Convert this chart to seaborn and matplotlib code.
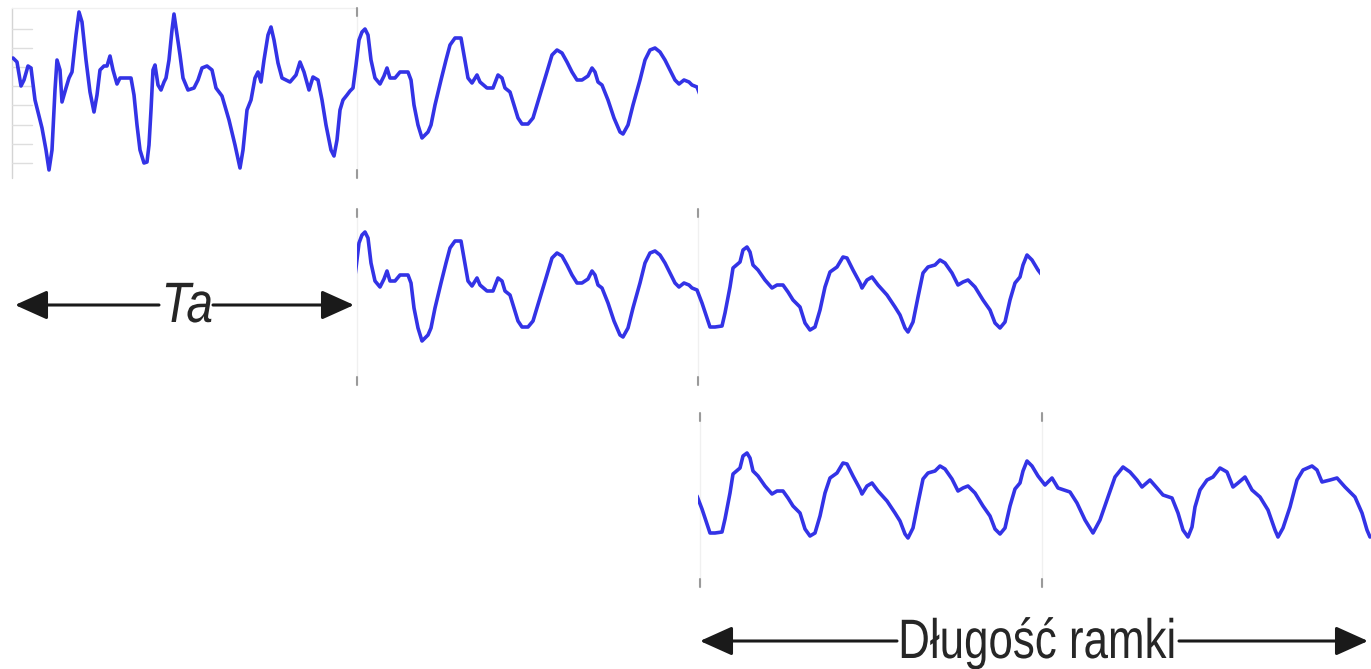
import numpy as np
import pandas as pd
import matplotlib
matplotlib.use("Agg")
import matplotlib.pyplot as plt
from matplotlib.patches import Rectangle, FancyArrowPatch
from matplotlib.patheffects import AbstractPathEffect
from matplotlib.transforms import Affine2D
import seaborn as sns

# Speech-like signal, sample index vs. amplitude
sample = [13, 17, 21, 24, 28, 31, 35, 42, 46, 49, 52, 55, 57, 60, 62, 66, 69, 72, 76, 79,
          82, 86, 90, 94, 97, 100, 104, 107, 110, 113, 117, 120, 125, 131, 134, 137, 140, 144, 147, 149,
          151, 153, 155, 158, 161, 164, 166, 169, 172, 174, 180, 183, 188, 194, 198, 202, 207, 212, 216, 222,
          229, 235, 240, 243, 247, 251, 255, 258, 261, 264, 268, 271, 274, 278, 282, 290, 296, 300, 304, 309,
          313, 318, 322, 326, 331, 334, 337, 340, 343, 347, 350, 353, 356, 359, 362, 365, 368, 371, 375, 380,
          384, 387, 390, 395, 400, 408, 411, 414, 418, 422, 428, 431, 435, 441, 446, 450, 455, 461, 464, 468,
          472, 477, 480, 487, 493, 498, 502, 505, 510, 514, 518, 522, 528, 533, 540, 546, 552, 557, 562, 567,
          572, 577, 582, 588, 592, 595, 598, 602, 608, 614, 620, 623, 628, 633, 640, 645, 650, 655, 660, 665,
          670, 675, 679, 684, 689, 692, 697, 702, 707, 710, 715, 722, 725, 730, 733, 740, 743, 747, 750, 753,
          758, 765, 772, 777, 783, 788, 793, 800, 805, 810, 815, 820, 825, 830, 837, 843, 847, 853, 860, 862,
          867, 872, 878, 887, 895, 900, 905, 908, 913, 918, 923, 928, 935, 940, 945, 952, 958, 963, 968, 975,
          983, 990, 995, 1000, 1005, 1010, 1015, 1020, 1023, 1027, 1032, 1038, 1045, 1052, 1058, 1070, 1077, 1085, 1093, 1100,
          1108, 1115, 1123, 1130, 1137, 1142, 1150, 1157, 1163, 1172, 1178, 1183, 1188, 1192, 1195, 1200, 1207, 1213, 1220, 1227,
          1233, 1238, 1245, 1252, 1260, 1268, 1275, 1278, 1283, 1290, 1297, 1303, 1312, 1317, 1322, 1330, 1337, 1345, 1355, 1362,
          1367, 1370]
amplitude = [32, 28, 4, 10, 24, 22, -10, -38, -60, -80, -60, 0, 30, 20, -12, 2, 12, 18, 55, 78,
             68, 30, -2, -22, -5, 20, 24, 24, 34, 20, 6, 12, 12, 12, -5, -35, -60, -73, -72, -55,
             -20, 20, 25, 5, 0, 8, 12, 30, 60, 76, 35, 12, 0, 2, 10, 22, 24, 20, 2, -6,
             -30, -55, -78, -60, -20, -10, 12, 18, 8, 30, 55, 63, 50, 27, 12, 8, 15, 28, 18, 0,
             13, 10, -10, -35, -60, -66, -50, -20, -10, -5, -1, 2, 25, 50, 58, 61, 55, 30, 12, 6,
             14, 22, 12, 12, 18, 18, 10, -15, -35, -48, -42, -35, -15, 10, 30, 45, 52, 52, 35, 12,
             7, 15, 8, 2, 2, 15, 12, 2, -2, -15, -28, -34, -34, -28, -5, 15, 35, 40, 37, 28,
             18, 10, 10, 14, 22, 18, 8, 5, -10, -28, -42, -44, -35, -15, 10, 30, 40, 42, 38, 30,
             20, 10, 6, 10, 8, 5, 3, -10, -25, -34, -34, -33, -20, 6, 25, 31, 43, 46, 41, 28,
             23, 13, 5, 8, 8, 1, -7, -14, -30, -37, -34, -17, 6, 21, 26, 36, 35, 23, 10, 5,
             13, 16, 8, -2, -14, -22, -35, -39, -29, -4, 20, 26, 28, 33, 30, 20, 8, 11, 13, 6,
             -7, -17, -30, -35, -29, -7, 10, 16, 28, 38, 33, 23, 14, 21, 11, 7, -4, -21, -34, -21,
             2, 22, 32, 27, 19, 12, 19, 11, 4, 1, -14, -31, -38, -28, -8, 9, 19, 22, 31, 27,
             12, 16, 22, 9, 2, -11, -31, -38, -29, -8, 19, 29, 33, 29, 17, 19, 21, 12, 2, -14,
             -31, -38]

# Overlapping analysis frames (start, end) and their vertical placement
frame_start = [12, 357, 698]
frame_end = [698, 1040, 1371]
frame_level = [579, 376, 170]

shift_label = "Ta"
length_label = "Długość ramki"


class Squeeze(AbstractPathEffect):
    """Draw text glyphs narrowed horizontally about their own centre."""

    def __init__(self, sx):
        super().__init__()
        self.sx = sx

    def draw_path(self, renderer, gc, tpath, affine, rgbFace=None):
        v = tpath.vertices
        xc = 0.5 * (v[:, 0].min() + v[:, 0].max()) if len(v) else 0.0
        squeeze = Affine2D().translate(-xc, 0).scale(self.sx, 1).translate(xc, 0)
        renderer.draw_path(gc, tpath, squeeze + affine, rgbFace)


sns.set_theme(style="white")
plt.rcParams["font.family"] = ["Liberation Sans", "DejaVu Sans"]

W, H = 1371, 669
fig = plt.figure(figsize=(W / 100, H / 100), dpi=100)
ax = fig.add_axes([0, 0, 1, 1])

signal = pd.DataFrame({"sample": sample, "amplitude": amplitude})
wave_color = "#3333e6"

for start, end, level in zip(frame_start, frame_end, frame_level):
    seg = signal[(signal["sample"] >= start - 8) & (signal["sample"] <= end + 8)].copy()
    seg["level"] = seg["amplitude"] + level
    sns.lineplot(data=seg, x="sample", y="level", ax=ax, color=wave_color,
                 lw=2.6, estimator=None, sort=False,
                 solid_joinstyle="round", solid_capstyle="round")
    clip = Rectangle((start, 0), end - start, H, transform=ax.transData)
    ax.lines[-1].set_clip_path(clip)

ax.set_xlim(0, W)
ax.set_ylim(0, H)
ax.axis("off")

# Faint axes of the first frame (left spine with ticks, top edge)
ax.plot([12, 12], [H - 8, H - 178], color="#d4d4d4", lw=1, zorder=1)
ax.plot([12, 357], [H - 8, H - 8], color="#f0f0f0", lw=1, zorder=1)
for ty in [29, 48, 67, 86, 105, 125, 144, 163]:
    ax.plot([12, 32], [H - ty, H - ty], color="#dedede", lw=1, zorder=1)

# Frame boundary markers
markers = [(357, 8, 178), (357, 209, 385), (698, 209, 385), (700, 413, 587), (1042, 413, 587)]
for mx, top, bot in markers:
    ax.plot([mx, mx], [H - top, H - bot], color="#f0f0f0", lw=1, zorder=1)
    ax.plot([mx, mx], [H - top, H - top - 8], color="#9a9a9a", lw=1.5, zorder=1)
    ax.plot([mx, mx], [H - bot + 8, H - bot], color="#9a9a9a", lw=1.5, zorder=1)

# Dimension arrows, broken where the label sits
head = "head_length=1.0,head_width=0.45"
arrow_kw = dict(mutation_scale=20, lw=2.2, color="#1a1a1a", shrinkA=0, shrinkB=0, zorder=3)
ya = H - 305
ax.add_patch(FancyArrowPatch((15, ya), (159, ya), arrowstyle="<|-," + head, **arrow_kw))
ax.add_patch(FancyArrowPatch((213, ya), (354, ya), arrowstyle="-|>," + head, **arrow_kw))
yb = H - 641
ax.add_patch(FancyArrowPatch((700, yb), (897, yb), arrowstyle="<|-," + head, **arrow_kw))
ax.add_patch(FancyArrowPatch((1179, yb), (1368, yb), arrowstyle="-|>," + head, **arrow_kw))

ax.text(187.5, H - 322, shift_label, fontsize=41, style="italic", ha="center", va="baseline",
        color="#262626", zorder=4, path_effects=[Squeeze(0.84)])
ax.text(1037.5, H - 658, length_label, fontsize=40, ha="center", va="baseline",
        color="#262626", zorder=4, path_effects=[Squeeze(0.79)])

fig.savefig("out.png", dpi=100, facecolor="white")
